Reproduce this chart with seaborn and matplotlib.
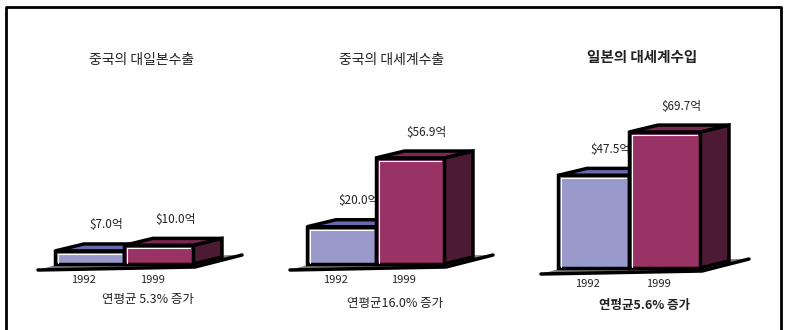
import numpy as np
import pandas as pd
import matplotlib.pyplot as plt
import seaborn as sns
from matplotlib.patches import Polygon
from matplotlib.lines import Line2D

# data
titles = ["중국의 대일본수출", "중국의 대세계수출", "일본의 대세계수입"]
years = ["1992", "1999"]
china_to_japan = [7.0, 10.0]
china_to_world = [20.0, 56.9]
japan_from_world = [47.5, 69.7]
growth = ["연평균 5.3% 증가", "연평균16.0% 증가", "연평균5.6% 증가"]

sns.set_theme(style="white")
plt.rcParams['font.family'] = ['Noto Sans CJK KR', 'DejaVu Sans']

W, H = 785, 330
fig = plt.figure(figsize=(W / 100, H / 100), dpi=100)
fig.patch.set_facecolor('white')

front_colors = ["#9999cc", "#993366"]
top_colors = ["#6a6ab0", "#7a2850"]
side_colors = ["#4a4a80", "#4d1a33"]

# panel geometry in pixels: left, base line, width, height
panels = [(55, 264, 138, 149), (307, 264, 137, 149), (558, 268, 142, 156)]
series = [china_to_japan, china_to_world, japan_from_world]
title_pos = [(142, 60), (392, 60), (642, 57)]
growth_pos = [(148, 299), (395, 303), (645, 306)]
DX, DY = 29, 7
YMAX = 80

for k, (vals, (left, base, wpx, hpx)) in enumerate(zip(series, panels)):
    ax = fig.add_axes([left / W, (H - base) / H, wpx / W, hpx / H])
    df = pd.DataFrame({'year': years, 'value': vals})
    sns.barplot(data=df, x='year', y='value', hue='year', palette=front_colors,
                width=1.0, edgecolor='black', linewidth=2.5, legend=False,
                saturation=1, ax=ax)
    ax.set_xlim(-0.5, 1.5)
    ax.set_ylim(0, YMAX)
    ax.axis('off')

    px = 2.0 / wpx          # data units per pixel (x)
    py = YMAX / hpx         # data units per pixel (y)
    ddx, ddy = DX * px, DY * py

    # floor: gray slab with a thick black front edge
    fl = (-0.5 - 17 * px, -6 * py)
    fr = (1.5 + 2 * px, -3 * py)
    far = (1.5 + ddx + 20 * px, ddy + 2 * py)
    bl = (-0.5 + ddx, ddy)
    ax.add_patch(Polygon([fl, fr, far, bl], closed=True, facecolor="#7f7f7f",
                         edgecolor='none', clip_on=False, zorder=0.5))
    ax.add_line(Line2D([fl[0], fr[0], far[0]], [fl[1], fr[1], far[1]], color='black',
                       linewidth=2.5, clip_on=False, zorder=0.6))

    for i, p in enumerate(ax.patches[:2]):
        x0 = p.get_x()
        x1 = x0 + p.get_width()
        h = p.get_height()
        z = 2 + 3 * i
        side = [(x1, 0), (x1 + ddx, ddy), (x1 + ddx, h + ddy), (x1, h)]
        top = [(x0, h), (x1, h), (x1 + ddx, h + ddy), (x0 + ddx, h + ddy)]
        ax.add_patch(Polygon(side, closed=True, facecolor=side_colors[i],
                             edgecolor='black', linewidth=2.5, clip_on=False, zorder=z))
        ax.add_patch(Polygon(top, closed=True, facecolor=top_colors[i],
                             edgecolor='black', linewidth=2.5, clip_on=False, zorder=z + 0.5))
        p.set_zorder(z + 1)
        p.set_clip_on(False)
        # white highlight inside front face
        ax.plot([x0 + 3 * px, x0 + 3 * px, x1 - 3 * px], [1.5 * py, h - 3 * py, h - 3 * py],
                color='white', linewidth=0.8, zorder=z + 1.1, clip_on=False)
        # value label
        ax.annotate(f"${vals[i]:.1f}억", xy=((x0 + x1) / 2, h), xytext=(17, 26),
                    textcoords='offset pixels', ha='center', va='center',
                    fontsize=8.5, color='#222222', zorder=z - 0.5 if i == 0 else 10,
                    annotation_clip=False)
        # year label
        ax.annotate(years[i], xy=((x0 + x1) / 2, 0), xytext=(-6, -16),
                    textcoords='offset pixels', ha='center', va='center',
                    fontsize=8, color='#222222', annotation_clip=False)

    tx, ty = title_pos[k]
    fig.text(tx / W, 1 - ty / H, titles[k], ha='center', va='center',
             fontsize=10.5 if k == 2 else 10,
             fontweight='bold' if k == 2 else 'normal', color='#222222')
    gx, gy = growth_pos[k]
    fig.text(gx / W, 1 - gy / H, growth[k], ha='center', va='center',
             fontsize=9, fontweight='bold' if k == 2 else 'normal', color='#222222')

# outer frame (open at the bottom)
fig.add_artist(Line2D([6 / W, 6 / W, 781 / W, 781 / W], [0, 1 - 7 / H, 1 - 7 / H, 0],
                      transform=fig.transFigure, color='black', linewidth=2))

fig.savefig("out.png", dpi=100)
